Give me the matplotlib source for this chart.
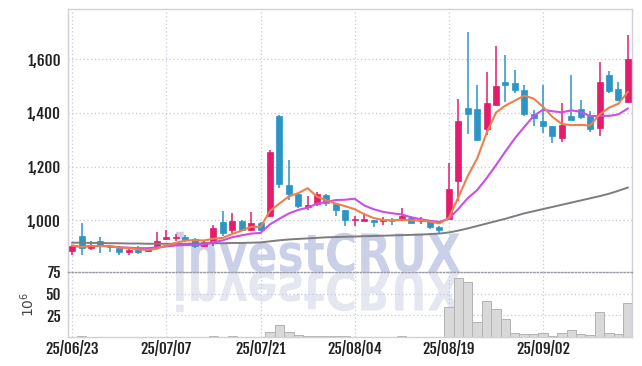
import matplotlib.pyplot as plt
import numpy as np
import pandas as pd
from matplotlib.textpath import TextPath
from matplotlib.patches import PathPatch
from matplotlib.font_manager import FontProperties
from matplotlib.transforms import Affine2D

# daily candles, 25/06/23 .. 25/09/15
opens = [885, 943, 897, 925, 906, 897, 881, 897, 885, 904,
         932, 935, 939, 931, 904, 919, 993, 963, 999, 966,
         991, 1017, 1387, 1133, 1099, 1050, 1062, 1094, 1061, 1037,
         1001, 996, 1000, 998, 999, 1000, 1010, 996, 999, 975,
         1006, 1145, 1418, 1415, 1340, 1428, 1515, 1512, 1486, 1395,
         1371, 1352, 1306, 1389, 1415, 1387, 1343, 1542, 1490, 1440]
highs = [908, 990, 922, 938, 910, 906, 895, 904, 899, 957,
         965, 950, 945, 933, 922, 984, 1036, 1027, 1003, 1031,
         993, 1260, 1390, 1226, 1100, 1092, 1104, 1098, 1065, 1040,
         1015, 1027, 1000, 1011, 1008, 1046, 1018, 1011, 1000, 980,
         1213, 1451, 1700, 1502, 1552, 1649, 1616, 1560, 1502, 1411,
         1502, 1352, 1436, 1542, 1449, 1408, 1589, 1557, 1513, 1690]
lows = [872, 872, 889, 879, 883, 871, 873, 875, 883, 902,
        928, 922, 920, 898, 900, 904, 943, 953, 960, 962,
        960, 1013, 1120, 1074, 1045, 1040, 1052, 1055, 1017, 978,
        978, 996, 975, 984, 984, 996, 990, 986, 969, 953,
        1003, 1071, 1322, 1296, 1319, 1428, 1440, 1474, 1387, 1352,
        1325, 1288, 1291, 1374, 1377, 1328, 1315, 1474, 1443, 1437]
closes = [906, 897, 910, 906, 900, 881, 889, 883, 897, 925,
          940, 937, 926, 904, 919, 973, 953, 999, 966, 991,
          966, 1255, 1135, 1098, 1052, 1058, 1099, 1065, 1037, 1003,
          1004, 1006, 994, 1000, 996, 1017, 990, 998, 974, 966,
          1117, 1371, 1395, 1300, 1436, 1501, 1502, 1486, 1395, 1380,
          1350, 1312, 1355, 1374, 1383, 1340, 1515, 1482, 1449, 1601]
# 60-day line (needs history before the window)
ma60 = [917, 917, 916, 916, 915, 915, 914, 914, 913, 913,
        913, 913, 913, 914, 914, 915, 915, 916, 916, 917,
        918, 922, 926, 929, 931, 933, 935, 937, 938, 939,
        940, 941, 942, 943, 944, 945, 946, 947, 949, 951,
        955, 962, 970, 979, 988, 997, 1006, 1016, 1026, 1034,
        1042, 1050, 1058, 1066, 1074, 1082, 1090, 1099, 1110, 1122]
# volume, millions of shares
volume = [0.4, 1.0, 0.3, 0.3, 0.2, 0.3, 0.2, 0.2, 0.3, 0.5,
          0.4, 0.3, 0.3, 0.3, 0.2, 0.6, 0.5, 1.2, 0.4, 0.5,
          0.4, 6.3, 13.5, 6.3, 2.5, 1.5, 1.5, 1.2, 0.8, 0.6,
          0.5, 0.5, 0.4, 0.3, 0.4, 1.5, 0.5, 0.4, 0.4, 0.5,
          34.5, 68, 63, 17.8, 41.9, 32.7, 21, 5, 2.9, 4,
          5, 1.7, 5, 8.6, 3.5, 2, 29.2, 4.5, 3, 39.5]
tick_pos = [0, 10, 20, 30, 40, 50]
tick_labels = ['25/06/23', '25/07/07', '25/07/21', '25/08/04', '25/08/19', '25/09/02']

df = pd.DataFrame({'o': opens, 'h': highs, 'l': lows, 'c': closes,
                   'ma60': ma60, 'v': volume})
df['ma5'] = df['c'].rolling(5, min_periods=1).mean()
df['ma10'] = df['c'].rolling(10, min_periods=1).mean()
idx = np.arange(len(df))

up_col = '#e31c6c'
down_col = '#2b95c6'
grid_col = '#c6c8dc'
fnt = ['Fjalla One', 'DejaVu Sans']

W, H = 642, 366
fig = plt.figure(figsize=(W / 100, H / 100), dpi=100)
ax = fig.add_axes([68 / W, 1 - 272 / H, 564 / W, 263 / H])
axv = fig.add_axes([68 / W, 1 - 337 / H, 564 / W, 65 / H], sharex=ax)

# watermark + its reflection
wm_font = FontProperties(family='DejaVu Sans', weight='bold')
tp = TextPath((0, 0), 'investCRUX', size=1, prop=wm_font)
ext = tp.get_extents()
capC = TextPath((0, 0), 'C', size=1, prop=wm_font).get_extents()
sx = 284 / ext.width
sy = 40 / capC.height
base = Affine2D().translate(-ext.x0, 0)
for a, flip, col in [(ax, 1, '#c9d0e8'), (axv, -1, '#e4e6f0')]:
    tr = (base + Affine2D().scale(sx, flip * sy).translate(176, H - 272)
          + Affine2D().scale(1 / W, 1 / H) + fig.transFigure)
    a.add_patch(PathPatch(tp, transform=tr, facecolor=col, edgecolor='none',
                          zorder=0.5, clip_on=False))

# candles
for i in idx:
    o, h, l, c = df.o[i], df.h[i], df.l[i], df.c[i]
    col = up_col if c >= o else down_col
    ax.vlines(i, l, h, color=col, linewidth=1.1, zorder=3)
    body = max(abs(c - o), 3)
    ax.bar(i, body, bottom=min(o, c), width=0.64, color=col,
           edgecolor=col, linewidth=0.5, zorder=4)

ax.plot(idx, df.ma60, color='#7d7d7d', linewidth=1.4, zorder=5)
ax.plot(idx, df.ma10, color='#cc4ee8', linewidth=1.5, zorder=5)
ax.plot(idx, df.ma5, color='#ef7f4a', linewidth=1.5, zorder=5)

ax.set_ylim(808, 1786)
ax.set_xlim(-0.45, 59.45)
ax.set_yticks([1000, 1200, 1400, 1600])
ax.set_yticklabels(['1,000', '1,200', '1,400', '1,600'])
ax.tick_params(axis='x', labelbottom=False, length=0)
ax.tick_params(axis='y', length=0, pad=5, labelsize=11, labelcolor='#222')
ax.set_xticks(tick_pos)

# volume
axv.bar(idx, df.v, width=1.0, color='#d9d9d9', edgecolor='#b3b3b3',
        linewidth=0.7, zorder=2)
axv.set_ylim(0, 75)
axv.set_yticks([25, 50, 75])
axv.set_xticks(tick_pos)
axv.set_xticklabels(tick_labels)
axv.tick_params(length=0, labelsize=11, labelcolor='#222')
axv.tick_params(axis='y', pad=5)
axv.tick_params(axis='x', pad=3)
axv.set_ylabel(r'$10^6$', fontsize=10, color='#444', labelpad=6)

for a in (ax, axv):
    a.set_facecolor('none')
    a.grid(True, color=grid_col, linestyle=(0, (1, 2)), linewidth=0.9, zorder=0)
    a.set_axisbelow(True)
    for s in a.spines.values():
        s.set_color('#d0d0d8')
        s.set_linewidth(1.0)
    for lab in a.get_xticklabels() + a.get_yticklabels():
        lab.set_family(fnt)
ax.spines['bottom'].set_visible(False)
axv.spines['top'].set_color('#9a9aa6')
axv.spines['top'].set_linestyle((0, (1, 1.5)))

fig.savefig('out.png', dpi=100)
